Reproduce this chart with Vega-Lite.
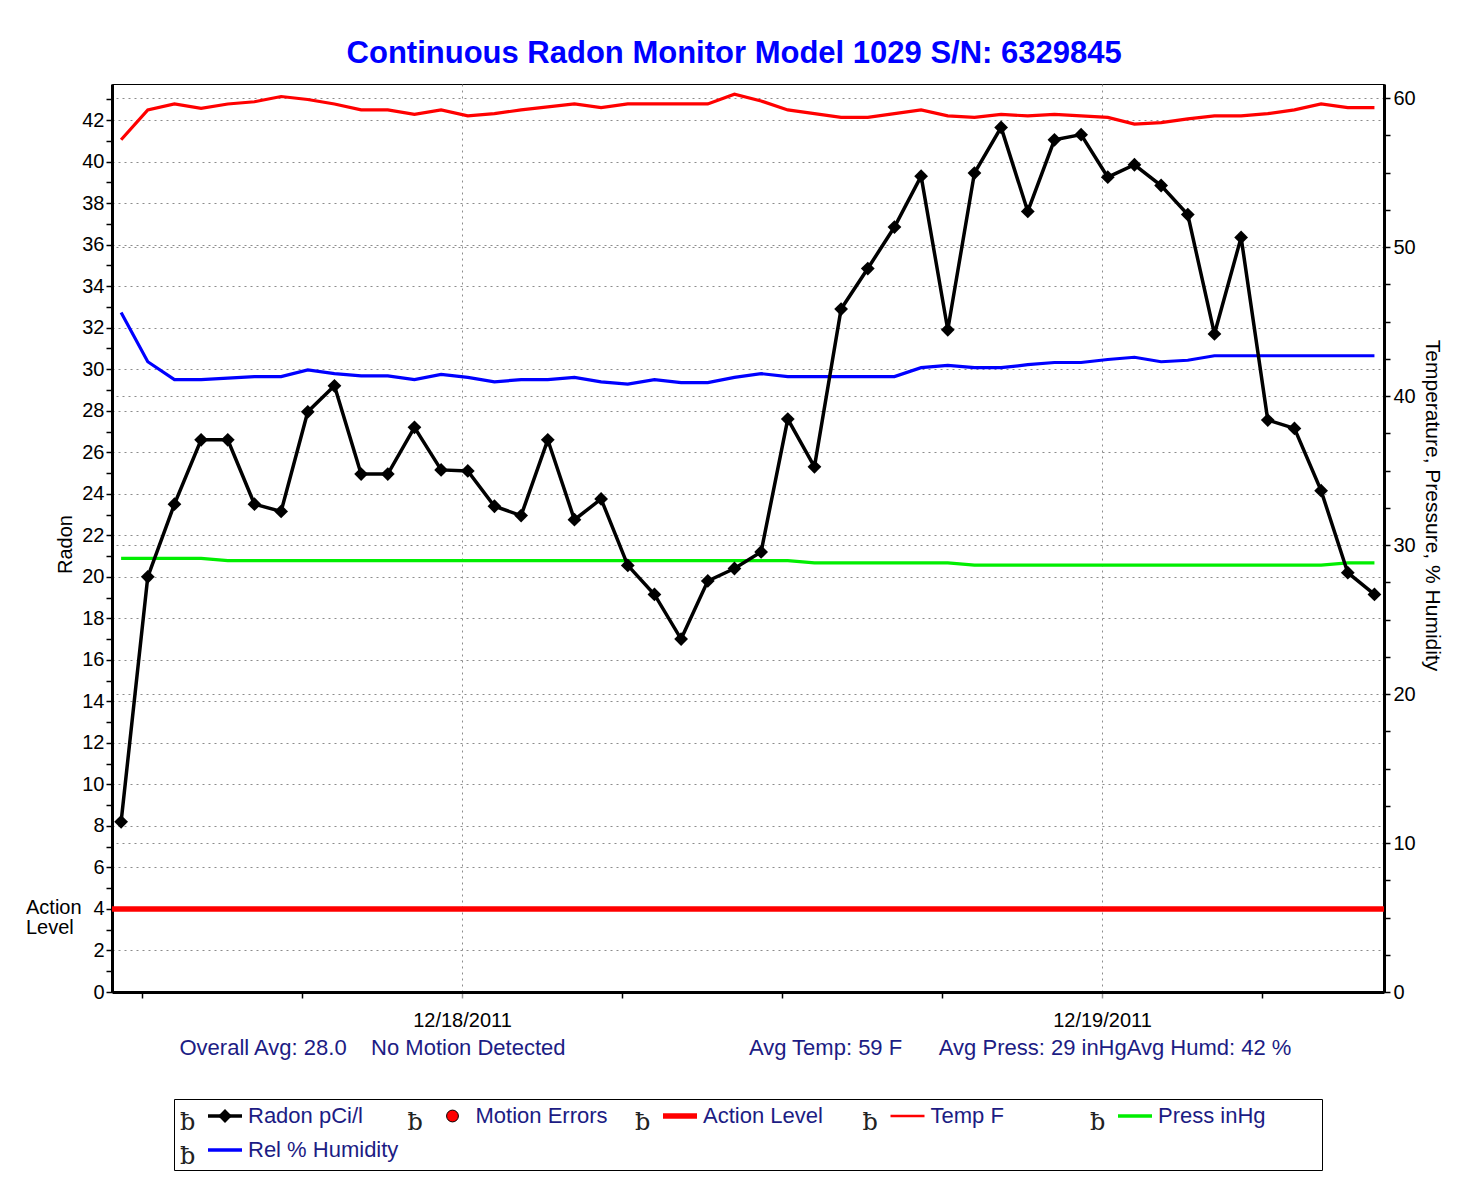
{
  "$schema": "https://vega.github.io/schema/vega-lite/v6.json",
  "background": "white",
  "padding": {"left": 25, "top": 37, "right": 10, "bottom": 10},
  "title": {"text": "Continuous Radon Monitor Model 1029 S/N: 6329845", "anchor": "middle", "frame": "bounds", "font": "Liberation Sans", "fontSize": 31, "fontWeight": "bold", "color": "#0000ff", "offset": 14},
  "datasets": {
    "hourly": [
      {"t": "2011-12-17T11:13:00Z", "radon": 8.2, "temp": 57.2, "press": 29.1, "hum": 45.6},
      {"t": "2011-12-17T12:13:00Z", "radon": 20.0, "temp": 59.2, "press": 29.1, "hum": 42.3},
      {"t": "2011-12-17T13:13:00Z", "radon": 23.5, "temp": 59.6, "press": 29.1, "hum": 41.1},
      {"t": "2011-12-17T14:13:00Z", "radon": 26.6, "temp": 59.3, "press": 29.1, "hum": 41.1},
      {"t": "2011-12-17T15:13:00Z", "radon": 26.6, "temp": 59.6, "press": 28.95, "hum": 41.2},
      {"t": "2011-12-17T16:13:00Z", "radon": 23.5, "temp": 59.75, "press": 28.95, "hum": 41.3},
      {"t": "2011-12-17T17:13:00Z", "radon": 23.15, "temp": 60.1, "press": 28.95, "hum": 41.3},
      {"t": "2011-12-17T18:13:00Z", "radon": 27.95, "temp": 59.9, "press": 28.95, "hum": 41.75},
      {"t": "2011-12-17T19:13:00Z", "radon": 29.2, "temp": 59.6, "press": 28.95, "hum": 41.5},
      {"t": "2011-12-17T20:13:00Z", "radon": 24.95, "temp": 59.2, "press": 28.95, "hum": 41.35},
      {"t": "2011-12-17T21:13:00Z", "radon": 24.95, "temp": 59.2, "press": 28.95, "hum": 41.35},
      {"t": "2011-12-17T22:13:00Z", "radon": 27.2, "temp": 58.9, "press": 28.95, "hum": 41.1},
      {"t": "2011-12-17T23:13:00Z", "radon": 25.15, "temp": 59.2, "press": 28.95, "hum": 41.45},
      {"t": "2011-12-18T00:13:00Z", "radon": 25.1, "temp": 58.8, "press": 28.95, "hum": 41.25},
      {"t": "2011-12-18T01:13:00Z", "radon": 23.4, "temp": 58.95, "press": 28.95, "hum": 40.95},
      {"t": "2011-12-18T02:13:00Z", "radon": 22.95, "temp": 59.2, "press": 28.95, "hum": 41.1},
      {"t": "2011-12-18T03:13:00Z", "radon": 26.6, "temp": 59.4, "press": 28.95, "hum": 41.1},
      {"t": "2011-12-18T04:13:00Z", "radon": 22.75, "temp": 59.6, "press": 28.95, "hum": 41.25},
      {"t": "2011-12-18T05:13:00Z", "radon": 23.75, "temp": 59.35, "press": 28.95, "hum": 40.95},
      {"t": "2011-12-18T06:13:00Z", "radon": 20.55, "temp": 59.6, "press": 28.95, "hum": 40.8},
      {"t": "2011-12-18T07:13:00Z", "radon": 19.15, "temp": 59.6, "press": 28.95, "hum": 41.1},
      {"t": "2011-12-18T08:13:00Z", "radon": 17.0, "temp": 59.6, "press": 28.95, "hum": 40.9},
      {"t": "2011-12-18T09:13:00Z", "radon": 19.8, "temp": 59.6, "press": 28.95, "hum": 40.9},
      {"t": "2011-12-18T10:13:00Z", "radon": 20.4, "temp": 60.25, "press": 28.95, "hum": 41.25},
      {"t": "2011-12-18T11:13:00Z", "radon": 21.2, "temp": 59.8, "press": 28.95, "hum": 41.5},
      {"t": "2011-12-18T12:13:00Z", "radon": 27.6, "temp": 59.2, "press": 28.95, "hum": 41.3},
      {"t": "2011-12-18T13:13:00Z", "radon": 25.3, "temp": 58.95, "press": 28.8, "hum": 41.3},
      {"t": "2011-12-18T14:13:00Z", "radon": 32.9, "temp": 58.7, "press": 28.8, "hum": 41.3},
      {"t": "2011-12-18T15:13:00Z", "radon": 34.85, "temp": 58.7, "press": 28.8, "hum": 41.3},
      {"t": "2011-12-18T16:13:00Z", "radon": 36.85, "temp": 58.95, "press": 28.8, "hum": 41.3},
      {"t": "2011-12-18T17:13:00Z", "radon": 39.3, "temp": 59.2, "press": 28.8, "hum": 41.9},
      {"t": "2011-12-18T18:13:00Z", "radon": 31.9, "temp": 58.8, "press": 28.8, "hum": 42.05},
      {"t": "2011-12-18T19:13:00Z", "radon": 39.45, "temp": 58.7, "press": 28.65, "hum": 41.9},
      {"t": "2011-12-18T20:13:00Z", "radon": 41.65, "temp": 58.9, "press": 28.65, "hum": 41.9},
      {"t": "2011-12-18T21:13:00Z", "radon": 37.6, "temp": 58.8, "press": 28.65, "hum": 42.1},
      {"t": "2011-12-18T22:13:00Z", "radon": 41.05, "temp": 58.9, "press": 28.65, "hum": 42.25},
      {"t": "2011-12-18T23:13:00Z", "radon": 41.3, "temp": 58.8, "press": 28.65, "hum": 42.25},
      {"t": "2011-12-19T00:13:00Z", "radon": 39.25, "temp": 58.7, "press": 28.65, "hum": 42.45},
      {"t": "2011-12-19T01:13:00Z", "radon": 39.85, "temp": 58.25, "press": 28.65, "hum": 42.6},
      {"t": "2011-12-19T02:13:00Z", "radon": 38.85, "temp": 58.35, "press": 28.65, "hum": 42.3},
      {"t": "2011-12-19T03:13:00Z", "radon": 37.45, "temp": 58.6, "press": 28.65, "hum": 42.4},
      {"t": "2011-12-19T04:13:00Z", "radon": 31.7, "temp": 58.8, "press": 28.65, "hum": 42.7},
      {"t": "2011-12-19T05:13:00Z", "radon": 36.35, "temp": 58.8, "press": 28.65, "hum": 42.7},
      {"t": "2011-12-19T06:13:00Z", "radon": 27.55, "temp": 58.95, "press": 28.65, "hum": 42.7},
      {"t": "2011-12-19T07:13:00Z", "radon": 27.15, "temp": 59.2, "press": 28.65, "hum": 42.7},
      {"t": "2011-12-19T08:13:00Z", "radon": 24.15, "temp": 59.6, "press": 28.65, "hum": 42.7},
      {"t": "2011-12-19T09:13:00Z", "radon": 20.2, "temp": 59.35, "press": 28.8, "hum": 42.7},
      {"t": "2011-12-19T10:13:00Z", "radon": 19.15, "temp": 59.35, "press": 28.8, "hum": 42.7}
    ],
    "action": [{"level": 4, "lab": "Action\nLevel"}],
    "legend": [
      {"col": 0, "row": 0, "kind": "radon", "label": "Radon pCi/l"},
      {"col": 1, "row": 0, "kind": "motion", "label": "Motion Errors"},
      {"col": 2, "row": 0, "kind": "action", "label": "Action Level"},
      {"col": 3, "row": 0, "kind": "temp", "label": "Temp F"},
      {"col": 4, "row": 0, "kind": "press", "label": "Press inHg"},
      {"col": 0, "row": 1, "kind": "hum", "label": "Rel % Humidity"}
    ]
  },
  "vconcat": [
    {
      "width": 1272,
      "height": 908,
      "data": {"name": "hourly"},
      "layer": [
        {
          "transform": [{"fold": ["temp", "press", "hum"], "as": ["series", "value"]}],
          "mark": {"type": "line", "strokeWidth": 3.2},
          "encoding": {
            "x": {
              "field": "t", "type": "temporal",
              "scale": {"type": "utc", "domain": [{"year": 2011, "month": 12, "date": 17, "hours": 10, "minutes": 52, "seconds": 30, "utc": true}, {"year": 2011, "month": 12, "date": 19, "hours": 10, "minutes": 34, "seconds": 30, "utc": true}]},
              "axis": {
                "orient": "bottom",
                "values": [
                  {"year": 2011, "month": 12, "date": 17, "hours": 12, "utc": true},
                  {"year": 2011, "month": 12, "date": 17, "hours": 18, "utc": true},
                  {"year": 2011, "month": 12, "date": 18, "hours": 0, "utc": true},
                  {"year": 2011, "month": 12, "date": 18, "hours": 6, "utc": true},
                  {"year": 2011, "month": 12, "date": 18, "hours": 12, "utc": true},
                  {"year": 2011, "month": 12, "date": 18, "hours": 18, "utc": true},
                  {"year": 2011, "month": 12, "date": 19, "hours": 0, "utc": true},
                  {"year": 2011, "month": 12, "date": 19, "hours": 6, "utc": true}
                ],
                "labelExpr": "utchours(datum.value) == 0 ? utcFormat(datum.value, '%m/%d/%Y') : ''",
                "labelOverlap": false,
                "labelPadding": 12,
                "labelFlush": false,
                "grid": true,
                "gridOpacity": {"condition": {"test": "utchours(datum.value) == 0", "value": 1}, "value": 0},
                "tickColor": {"condition": {"test": "utchours(datum.value) == 0", "value": "#999999"}, "value": "black"},
                "title": "Overall Avg: 28.0\u00a0\u00a0\u00a0\u00a0No Motion Detected\u00a0\u00a0\u00a0\u00a0\u00a0\u00a0\u00a0\u00a0\u00a0\u00a0\u00a0\u00a0\u00a0\u00a0\u00a0\u00a0\u00a0\u00a0\u00a0\u00a0\u00a0\u00a0\u00a0\u00a0\u00a0\u00a0\u00a0\u00a0\u00a0\u00a0Avg Temp: 59 F\u00a0\u00a0\u00a0\u00a0\u00a0\u00a0Avg Press: 29 inHgAvg Humd: 42 %",
                "titleColor": "#1c1c84",
                "titleFontSize": 22,
                "titleAnchor": "start",
                "titleAlign": "left",
                "titleX": 67,
                "titlePadding": 7
              }
            },
            "y": {
              "field": "value", "type": "quantitative",
              "scale": {"domain": [0, 60.94], "nice": false, "zero": false},
              "axis": {
                "orient": "right",
                "title": "Temperature, Pressure, % Humidity",
                "titleFontSize": 21,
                "titlePadding": 6,
                "titleY": 421,
                "values": [0, 2.5, 5, 7.5, 10, 12.5, 15, 17.5, 20, 22.5, 25, 27.5, 30, 32.5, 35, 37.5, 40, 42.5, 45, 47.5, 50, 52.5, 55, 57.5, 60],
                "labelExpr": "datum.value % 10 == 0 ? datum.label : ''",
                "labelOverlap": false,
                "labelPadding": 3,
                "grid": true,
                "gridOpacity": {"condition": {"test": "datum.value % 10 == 0 && datum.value > 0", "value": 1}, "value": 0}
              }
            },
            "color": {"field": "series", "type": "nominal", "scale": {"domain": ["temp", "press", "hum"], "range": ["#ff0000", "#00ee00", "#0000ff"]}, "legend": null}
          }
        },
        {
          "data": {"name": "action"},
          "mark": {"type": "rule", "color": "#ff0000", "strokeWidth": 5.5},
          "encoding": {
            "y": {"field": "level", "type": "quantitative", "scale": {"domain": [0, 43.74], "nice": false, "zero": false}, "axis": null}
          }
        },
        {
          "data": {"name": "action"},
          "mark": {"type": "text", "align": "left", "baseline": "alphabetic", "dx": -86, "dy": 5, "lineBreak": "\n", "lineHeight": 20, "font": "Liberation Sans", "fontSize": 20, "color": "black"},
          "encoding": {
            "x": {"datum": {"year": 2011, "month": 12, "date": 17, "hours": 10, "minutes": 52, "seconds": 30, "utc": true}, "type": "temporal", "scale": {"type": "utc", "domain": [{"year": 2011, "month": 12, "date": 17, "hours": 10, "minutes": 52, "seconds": 30, "utc": true}, {"year": 2011, "month": 12, "date": 19, "hours": 10, "minutes": 34, "seconds": 30, "utc": true}]}, "axis": null},
            "y": {"field": "level", "type": "quantitative", "scale": {"domain": [0, 43.74], "nice": false, "zero": false}, "axis": null},
            "text": {"field": "lab"}
          }
        },
        {
          "mark": {"type": "line", "color": "black", "strokeWidth": 3.5},
          "encoding": {
            "x": {"field": "t", "type": "temporal", "scale": {"type": "utc", "domain": [{"year": 2011, "month": 12, "date": 17, "hours": 10, "minutes": 52, "seconds": 30, "utc": true}, {"year": 2011, "month": 12, "date": 19, "hours": 10, "minutes": 34, "seconds": 30, "utc": true}]}, "axis": null},
            "y": {
              "field": "radon", "type": "quantitative",
              "scale": {"domain": [0, 43.74], "nice": false, "zero": false},
              "axis": {
                "orient": "left",
                "title": "Radon",
                "format": "d",
                "titlePadding": 6,
                "titleY": 460,
                "values": [0, 0.5, 1, 1.5, 2, 2.5, 3, 3.5, 4, 4.5, 5, 5.5, 6, 6.5, 7, 7.5, 8, 8.5, 9, 9.5, 10, 10.5, 11, 11.5, 12, 12.5, 13, 13.5, 14, 14.5, 15, 15.5, 16, 16.5, 17, 17.5, 18, 18.5, 19, 19.5, 20, 20.5, 21, 21.5, 22, 22.5, 23, 23.5, 24, 24.5, 25, 25.5, 26, 26.5, 27, 27.5, 28, 28.5, 29, 29.5, 30, 30.5, 31, 31.5, 32, 32.5, 33, 33.5, 34, 34.5, 35, 35.5, 36, 36.5, 37, 37.5, 38, 38.5, 39, 39.5, 40, 40.5, 41, 41.5, 42, 42.5, 43, 43.5],
                "labelExpr": "datum.value % 2 == 0 ? datum.label : ''",
                "labelOverlap": false,
                "labelPadding": 2,
                "grid": true,
                "gridOpacity": {"condition": {"test": "datum.value % 2 == 0 && datum.value > 0", "value": 1}, "value": 0}
              }
            }
          }
        },
        {
          "mark": {"type": "point", "shape": "diamond", "filled": true, "color": "black", "size": 190, "opacity": 1},
          "encoding": {
            "x": {"field": "t", "type": "temporal", "scale": {"type": "utc", "domain": [{"year": 2011, "month": 12, "date": 17, "hours": 10, "minutes": 52, "seconds": 30, "utc": true}, {"year": 2011, "month": 12, "date": 19, "hours": 10, "minutes": 34, "seconds": 30, "utc": true}]}, "axis": null},
            "y": {"field": "radon", "type": "quantitative", "scale": {"domain": [0, 43.74], "nice": false, "zero": false}, "axis": null}
          }
        }
      ],
      "resolve": {"scale": {"y": "independent", "x": "independent"}}
    },
    {
      "width": 1148,
      "height": 71,
      "data": {"name": "legend"},
      "layer": [
        {
          "transform": [{"filter": "datum.kind == 'radon'"}],
          "mark": {"type": "rule", "strokeWidth": 3.5, "color": "black", "xOffset": 34, "x2Offset": 68},
          "encoding": {
            "x": {"field": "col", "type": "quantitative", "scale": {"domain": [0, 5], "range": [0, 1137.5]}, "axis": null},
            "x2": {"field": "col"},
            "y": {"field": "row", "type": "quantitative", "scale": {"domain": [0, 1], "range": [17, 51]}, "axis": null}
          }
        },
        {
          "transform": [{"filter": "datum.kind == 'press'"}],
          "mark": {"type": "rule", "strokeWidth": 3.5, "color": "#00ee00", "xOffset": 34, "x2Offset": 68},
          "encoding": {
            "x": {"field": "col", "type": "quantitative", "scale": {"domain": [0, 5], "range": [0, 1137.5]}, "axis": null},
            "x2": {"field": "col"},
            "y": {"field": "row", "type": "quantitative", "scale": {"domain": [0, 1], "range": [17, 51]}, "axis": null}
          }
        },
        {
          "transform": [{"filter": "datum.kind == 'hum'"}],
          "mark": {"type": "rule", "strokeWidth": 3.5, "color": "#0000ff", "xOffset": 34, "x2Offset": 68},
          "encoding": {
            "x": {"field": "col", "type": "quantitative", "scale": {"domain": [0, 5], "range": [0, 1137.5]}, "axis": null},
            "x2": {"field": "col"},
            "y": {"field": "row", "type": "quantitative", "scale": {"domain": [0, 1], "range": [17, 51]}, "axis": null}
          }
        },
        {
          "transform": [{"filter": "datum.kind == 'action'"}],
          "mark": {"type": "rule", "strokeWidth": 5.5, "color": "#ff0000", "xOffset": 34, "x2Offset": 68},
          "encoding": {
            "x": {"field": "col", "type": "quantitative", "scale": {"domain": [0, 5], "range": [0, 1137.5]}, "axis": null},
            "x2": {"field": "col"},
            "y": {"field": "row", "type": "quantitative", "scale": {"domain": [0, 1], "range": [17, 51]}, "axis": null}
          }
        },
        {
          "transform": [{"filter": "datum.kind == 'temp'"}],
          "mark": {"type": "rule", "strokeWidth": 2.5, "color": "#ff0000", "xOffset": 34, "x2Offset": 68},
          "encoding": {
            "x": {"field": "col", "type": "quantitative", "scale": {"domain": [0, 5], "range": [0, 1137.5]}, "axis": null},
            "x2": {"field": "col"},
            "y": {"field": "row", "type": "quantitative", "scale": {"domain": [0, 1], "range": [17, 51]}, "axis": null}
          }
        },
        {
          "transform": [{"filter": "datum.kind == 'radon'"}],
          "mark": {"type": "point", "shape": "diamond", "filled": true, "color": "black", "size": 190, "opacity": 1, "xOffset": 51},
          "encoding": {
            "x": {"field": "col", "type": "quantitative", "scale": {"domain": [0, 5], "range": [0, 1137.5]}, "axis": null},
            "y": {"field": "row", "type": "quantitative", "scale": {"domain": [0, 1], "range": [17, 51]}, "axis": null}
          }
        },
        {
          "transform": [{"filter": "datum.kind == 'motion'"}],
          "mark": {"type": "point", "shape": "circle", "filled": true, "fill": "#ff0000", "stroke": "black", "strokeWidth": 1, "size": 140, "opacity": 1, "xOffset": 51},
          "encoding": {
            "x": {"field": "col", "type": "quantitative", "scale": {"domain": [0, 5], "range": [0, 1137.5]}, "axis": null},
            "y": {"field": "row", "type": "quantitative", "scale": {"domain": [0, 1], "range": [17, 51]}, "axis": null}
          }
        },
        {
          "mark": {"type": "text", "text": "ƀ", "align": "left", "baseline": "middle", "dx": 6, "dy": 7, "font": "DejaVu Serif", "fontSize": 24, "color": "#222222"},
          "encoding": {
            "x": {"field": "col", "type": "quantitative", "scale": {"domain": [0, 5], "range": [0, 1137.5]}, "axis": null},
            "y": {"field": "row", "type": "quantitative", "scale": {"domain": [0, 1], "range": [17, 51]}, "axis": null}
          }
        },
        {
          "mark": {"type": "text", "align": "left", "baseline": "middle", "dx": 74, "font": "Liberation Sans", "fontSize": 22, "color": "#1c1c84"},
          "encoding": {
            "x": {"field": "col", "type": "quantitative", "scale": {"domain": [0, 5], "range": [0, 1137.5]}, "axis": null},
            "y": {"field": "row", "type": "quantitative", "scale": {"domain": [0, 1], "range": [17, 51]}, "axis": null},
            "text": {"field": "label"}
          }
        }
      ]
    }
  ],
  "spacing": 107,
  "bounds": "flush",
  "center": true,
  "config": {
    "view": {"stroke": "black", "strokeWidth": 1},
    "font": "Liberation Sans",
    "axis": {
      "domainColor": "black",
      "domainWidth": 3,
      "tickColor": "black",
      "tickWidth": 1.5,
      "tickSize": 6,
      "labelFont": "Liberation Sans",
      "labelFontSize": 20,
      "labelColor": "black",
      "titleFont": "Liberation Sans",
      "titleFontSize": 20,
      "titleFontWeight": "normal",
      "titleColor": "black",
      "grid": true,
      "gridColor": "#8c8c8c",
      "gridDash": [2, 4],
      "gridWidth": 1
    }
  }
}
